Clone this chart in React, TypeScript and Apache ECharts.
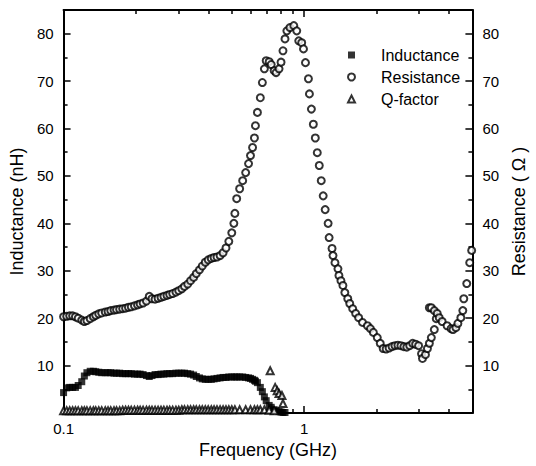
import React, { useEffect, useRef } from 'react';
import * as echarts from 'echarts';

// Frequencies (GHz) of the densely sampled low-frequency band
const bandFreq = [
  0.100, 0.103, 0.106, 0.109, 0.112, 0.115, 0.119, 0.122, 0.125, 0.129,
  0.133, 0.136, 0.140, 0.144, 0.149, 0.153, 0.157, 0.162, 0.166, 0.171,
  0.176, 0.181, 0.186, 0.191, 0.197, 0.203, 0.208, 0.214, 0.221, 0.227,
  0.233, 0.240, 0.247, 0.254, 0.261, 0.269, 0.276, 0.284, 0.293, 0.301,
  0.310, 0.318, 0.328, 0.337, 0.347, 0.356, 0.367, 0.377, 0.388, 0.399,
  0.411, 0.422, 0.434, 0.447, 0.460, 0.473, 0.486, 0.500,
];

// Resistance (Ohm)
const resBand = [
  20.3, 20.4, 20.5, 20.5, 20.3, 20.0, 19.6, 19.3, 19.5, 19.9,
  20.3, 20.6, 20.9, 21.1, 21.3, 21.4, 21.6, 21.7, 21.8, 21.9,
  22.0, 22.1, 22.3, 22.4, 22.6, 22.8, 23.0, 23.2, 23.6, 24.6,
  24.1, 24.0, 24.2, 24.4, 24.6, 24.8, 25.0, 25.2, 25.5, 25.8,
  26.2, 26.7, 27.2, 27.9, 28.6, 29.4, 30.2, 31.0, 31.8, 32.3,
  32.6, 32.8, 32.9, 33.2, 33.8, 34.8, 36.2, 38.0,
];
const resTailFreq = [
  0.510, 0.515, 0.524, 0.539, 0.555, 0.571, 0.587, 0.598, 0.610, 0.621,
  0.627, 0.639, 0.657, 0.670, 0.683, 0.695, 0.715, 0.729, 0.750, 0.764,
  0.786, 0.801, 0.816, 0.832, 0.847, 0.872, 0.905, 0.931, 0.949, 0.976,
  0.993, 1.012, 1.041, 1.051, 1.071, 1.091, 1.112, 1.133, 1.155, 1.177,
  1.199, 1.222, 1.257, 1.269, 1.305, 1.317, 1.342, 1.381, 1.394, 1.421,
  1.448, 1.475, 1.517, 1.546, 1.590, 1.636, 1.683, 1.747, 1.831, 1.884,
  1.938, 2.012, 2.070, 2.129, 2.190, 2.252, 2.317, 2.383, 2.451, 2.522,
  2.594, 2.668, 2.744, 2.823, 2.904, 2.987, 3.072, 3.101, 3.190, 3.251,
  3.312, 3.375, 3.472, 3.538, 3.312, 3.375, 3.472, 3.571, 3.639, 3.743,
  3.924, 4.074, 4.152, 4.270, 4.351, 4.476, 4.561, 4.604, 4.736, 4.872,
  4.964,
];
const resTailVal = [
  40.0, 42.1, 45.2, 47.3, 49.0, 50.7, 52.6, 54.3, 56.0, 58.0,
  60.6, 63.4, 66.5, 69.7, 72.6, 74.3, 74.1, 73.5, 72.2, 71.8,
  72.6, 74.0, 76.4, 78.9, 80.6, 81.3, 81.7, 80.6, 78.5, 78.1,
  76.8, 73.9, 70.5, 67.3, 64.1, 60.9, 58.0, 54.9, 52.2, 49.0,
  45.8, 42.9, 40.0, 37.0, 34.7, 33.2, 31.7, 30.4, 29.0, 27.9,
  26.9, 25.4, 24.1, 23.1, 22.0, 21.0, 20.1, 19.1, 18.4, 17.8,
  17.0, 15.9, 14.7, 13.6, 13.5, 13.7, 14.0, 14.2, 14.3, 14.2,
  14.0, 13.9, 14.2, 14.7, 14.5, 14.2, 12.5, 11.5, 12.3, 13.6,
  14.7, 15.9, 17.6, 19.9, 22.2, 22.2, 21.6, 21.0, 20.1, 19.3,
  18.4, 17.8, 17.6, 18.0, 18.9, 20.1, 21.6, 24.1, 27.3, 31.7,
  34.3,
];

// Inductance (nH)
const indBand = [
  4.3, 5.3, 5.4, 5.4, 5.4, 5.8, 6.6, 7.8, 8.5, 8.8,
  8.8, 8.7, 8.6, 8.5, 8.5, 8.5, 8.5, 8.4, 8.4, 8.4,
  8.3, 8.3, 8.3, 8.3, 8.2, 8.2, 8.2, 8.1, 7.9, 7.7,
  7.9, 8.1, 8.1, 8.2, 8.2, 8.3, 8.3, 8.3, 8.4, 8.4,
  8.4, 8.4, 8.3, 8.2, 8.0, 7.7, 7.4, 7.2, 7.1, 7.1,
  7.1, 7.2, 7.3, 7.4, 7.5, 7.5, 7.6, 7.6,
];
const indTailFreq = [
  0.515, 0.524, 0.539, 0.555, 0.571, 0.587, 0.598, 0.610, 0.621, 0.627,
  0.639, 0.657, 0.670, 0.683, 0.695, 0.715, 0.729, 0.750, 0.764, 0.786,
  0.801, 0.816, 0.832,
];
const indTailVal = [
  7.6, 7.6, 7.6, 7.6, 7.5, 7.4, 7.3, 7.1, 6.9, 6.7,
  6.4, 5.4, 4.5, 3.4, 2.6, 1.6, 1.2, 0.7, 0.5, 0.3,
  0.2, 0.1, 0.1,
];

// Q-factor
const qBand = [
  0.5, 0.5, 0.5, 0.5, 0.5, 0.5, 0.5, 0.5, 0.5, 0.5,
  0.5, 0.5, 0.5, 0.5, 0.5, 0.5, 0.5, 0.5, 0.5, 0.5,
  0.6, 0.6, 0.6, 0.6, 0.6, 0.6, 0.6, 0.6, 0.6, 0.6,
  0.6, 0.6, 0.6, 0.6, 0.6, 0.6, 0.6, 0.6, 0.6, 0.6,
  0.7, 0.7, 0.7, 0.7, 0.7, 0.7, 0.7, 0.7, 0.7, 0.7,
  0.7, 0.7, 0.7, 0.7, 0.7, 0.7, 0.7, 0.7,
];
const qTailFreq = [
  0.515, 0.539, 0.571, 0.598, 0.621, 0.639, 0.657, 0.683, 0.715, 0.750,
  0.722, 0.757, 0.772, 0.786, 0.808, 0.816,
];
const qTailVal = [
  0.7, 0.7, 0.7, 0.7, 0.7, 0.7, 0.7, 0.7, 0.6, 0.5,
  8.9, 5.4, 4.7, 4.1, 3.7, 2.0,
];

// Axis ticks
const xMinorTicks = [0.2, 0.3, 0.4, 0.5, 0.6, 0.7, 0.8, 0.9, 2, 3, 4];
const yMajorTicks = [10, 20, 30, 40, 50, 60, 70, 80];
const yMinorTicks = [5, 15, 25, 35, 45, 55, 65, 75];

const FONT = 'Liberation Sans, Arial, Helvetica, sans-serif';

function zip(xs: number[], ys: number[]) {
  return xs.map((x, i) => [x, ys[i]]);
}

export default function App() {
  const ref = useRef<HTMLDivElement>(null);

  useEffect(() => {
    if (!ref.current) return;
    const chart = echarts.init(ref.current, undefined, { renderer: 'svg' });
    const lineStyle = { color: '#000', width: 2 };
    const tickStyle = { color: '#000', width: 1.5 };
    const xMin = 0.1;
    const xMax = 5;
    const logMin = Math.log10(xMin);
    const logMax = Math.log10(xMax);

    chart.setOption({
      animation: false,
      backgroundColor: '#fff',
      textStyle: { fontFamily: FONT },
      grid: { left: 63, right: 57, top: 10, bottom: 53 },
      legend: {
        orient: 'vertical',
        left: 342,
        top: 42,
        itemWidth: 7,
        itemHeight: 7,
        itemGap: 6,
        selectedMode: false,
        textStyle: { fontSize: 16, color: '#000', fontFamily: FONT, padding: [0, 0, 0, 21] },
        data: [
          { name: 'Inductance', itemStyle: { color: '#000' } },
          { name: 'Resistance' },
          { name: 'Q-factor' },
        ],
      },
      xAxis: [
        {
          type: 'log', logBase: 10, min: xMin, max: xMax, position: 'bottom',
          name: 'Frequency (GHz)', nameLocation: 'middle', nameGap: 27,
          nameTextStyle: { fontSize: 18, color: '#000', fontFamily: FONT },
          axisLine: { show: true, onZero: false, lineStyle },
          axisTick: { show: true, inside: true, length: 7, lineStyle: tickStyle },
          axisLabel: {
            fontSize: 15, color: '#000', margin: 8, fontFamily: FONT,
            formatter: (v: number) => (v > 4 ? '' : String(v)),
          },
          splitLine: { show: false },
          minorTick: { show: false },
        },
        {
          type: 'value', min: logMin, max: logMax, position: 'bottom',
          axisLine: { show: false, onZero: false },
          axisTick: { show: true, inside: true, length: 4, lineStyle: tickStyle, customValues: xMinorTicks.map(Math.log10) },
          axisLabel: { show: false },
          splitLine: { show: false },
        },
        {
          type: 'log', logBase: 10, min: xMin, max: xMax, position: 'top',
          axisLine: { show: true, onZero: false, lineStyle },
          axisTick: { show: true, inside: true, length: 7, lineStyle: tickStyle },
          axisLabel: { show: false },
          splitLine: { show: false },
        },
        {
          type: 'value', min: logMin, max: logMax, position: 'top',
          axisLine: { show: false, onZero: false },
          axisTick: { show: true, inside: true, length: 4, lineStyle: tickStyle, customValues: xMinorTicks.map(Math.log10) },
          axisLabel: { show: false },
          splitLine: { show: false },
        },
      ],
      yAxis: [
        {
          type: 'value', min: 0, max: 85, position: 'left',
          name: 'Inductance (nH)', nameLocation: 'middle', nameGap: 37, nameRotate: 90,
          nameTextStyle: { fontSize: 18, color: '#000', fontFamily: FONT },
          axisLine: { show: true, onZero: false, lineStyle },
          axisTick: { show: true, inside: true, length: 7, lineStyle: tickStyle, customValues: yMajorTicks },
          axisLabel: { fontSize: 15, color: '#000', margin: 10, fontFamily: FONT, customValues: yMajorTicks },
          splitLine: { show: false },
        },
        {
          type: 'value', min: 0, max: 85, position: 'left',
          axisLine: { show: false, onZero: false },
          axisTick: { show: true, inside: true, length: 4, lineStyle: tickStyle, customValues: yMinorTicks },
          axisLabel: { show: false },
          splitLine: { show: false },
        },
        {
          type: 'value', min: 0, max: 85, position: 'right',
          name: 'Resistance ( Ω )', nameLocation: 'middle', nameGap: 34, nameRotate: 90,
          nameTextStyle: { fontSize: 18, color: '#000', fontFamily: FONT },
          axisLine: { show: true, onZero: false, lineStyle },
          axisTick: { show: true, inside: true, length: 7, lineStyle: tickStyle, customValues: yMajorTicks },
          axisLabel: { fontSize: 15, color: '#000', margin: 10, fontFamily: FONT, customValues: yMajorTicks },
          splitLine: { show: false },
        },
        {
          type: 'value', min: 0, max: 85, position: 'right',
          axisLine: { show: false, onZero: false },
          axisTick: { show: true, inside: true, length: 4, lineStyle: tickStyle, customValues: yMinorTicks },
          axisLabel: { show: false },
          splitLine: { show: false },
        },
      ],
      series: [
        {
          name: 'Inductance', type: 'scatter', xAxisIndex: 0, yAxisIndex: 0,
          symbol: 'rect', symbolSize: 7,
          itemStyle: { color: '#000' },
          data: [...zip(bandFreq, indBand), ...zip(indTailFreq, indTailVal)],
        },
        {
          name: 'Resistance', type: 'scatter', xAxisIndex: 0, yAxisIndex: 2,
          symbol: 'emptyCircle', symbolSize: 7,
          itemStyle: { color: '#000', borderWidth: 1 },
          data: [...zip(bandFreq, resBand), ...zip(resTailFreq, resTailVal)],
        },
        {
          name: 'Q-factor', type: 'scatter', xAxisIndex: 0, yAxisIndex: 0,
          symbol: 'emptyTriangle', symbolSize: 7,
          itemStyle: { color: '#000', borderWidth: 1 },
          data: [...zip(bandFreq, qBand), ...zip(qTailFreq, qTailVal)],
        },
      ],
    });
    return () => chart.dispose();
  }, []);

  return (
    <div
      ref={ref}
      style={{ position: 'fixed', left: 0, top: 0, width: 536, height: 466, background: '#fff' }}
    />
  );
}
